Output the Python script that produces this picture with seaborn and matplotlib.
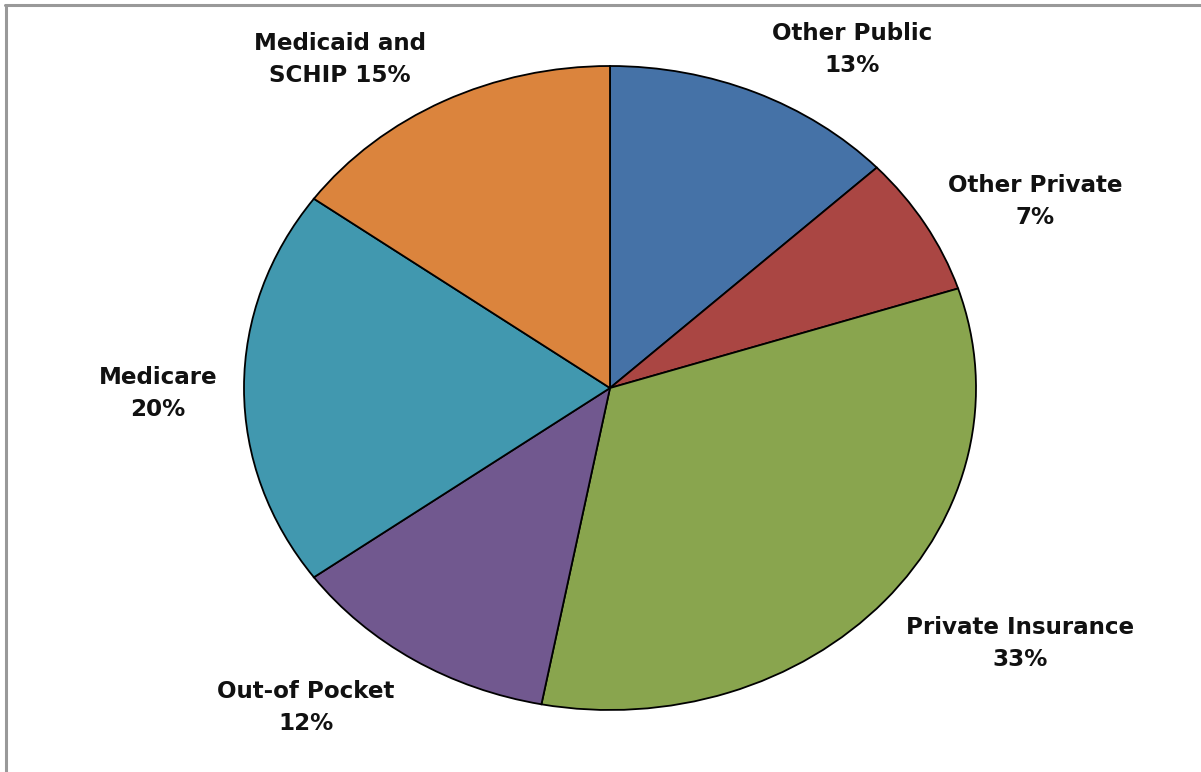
import matplotlib
matplotlib.use("Agg")
import matplotlib.pyplot as plt
from matplotlib.lines import Line2D
import seaborn as sns

sns.set_theme(style="white")
plt.rcParams['font.family'] = ['DejaVu Sans']

categories = ["Other Public", "Other Private", "Private Insurance",
              "Out-of Pocket", "Medicare", "Medicaid and"]
values = [13, 7, 33, 12, 20, 15]
label_texts = ["Other Public\n13%", "Other Private\n7%", "Private Insurance\n33%",
               "Out-of Pocket\n12%", "Medicare\n20%", "Medicaid and\nSCHIP 15%"]
colors = ["#4572A7", "#AA4643", "#89A54E", "#71588F", "#4198AF", "#DB843D"]

W, H = 1201, 772
fig = plt.figure(figsize=(W / 100, H / 100), dpi=100)
fig.patch.set_facecolor("white")

cx, cy, rx, ry = 610, 388, 366, 322
ax = fig.add_axes([(cx - rx) / W, (H - cy - ry) / H, 2 * rx / W, 2 * ry / H])
ax.pie(values, colors=colors, startangle=90, counterclock=False, radius=1,
       wedgeprops=dict(edgecolor="black", linewidth=1.3))
ax.set_xlim(-1, 1)
ax.set_ylim(-1, 1)
ax.set_aspect("auto")
ax.axis("off")

# label centres in pixel coordinates
label_pos = [(852, 50), (1035, 201), (1020, 644), (306, 707), (158, 393), (340, 59)]
for txt, (px, py) in zip(label_texts, label_pos):
    fig.text(px / W, 1 - py / H, txt, ha="center", va="center", fontsize=16.6,
             fontweight="bold", color="#111111", linespacing=1.5)

# frame lines (top and left)
fig.add_artist(Line2D([5 / W, 1], [1 - 5 / H, 1 - 5 / H], transform=fig.transFigure,
                      color="#999999", linewidth=2.2))
fig.add_artist(Line2D([6 / W, 6 / W], [0, 1 - 5 / H], transform=fig.transFigure,
                      color="#999999", linewidth=2.2))

fig.savefig("out.png", dpi=100, facecolor="white")
